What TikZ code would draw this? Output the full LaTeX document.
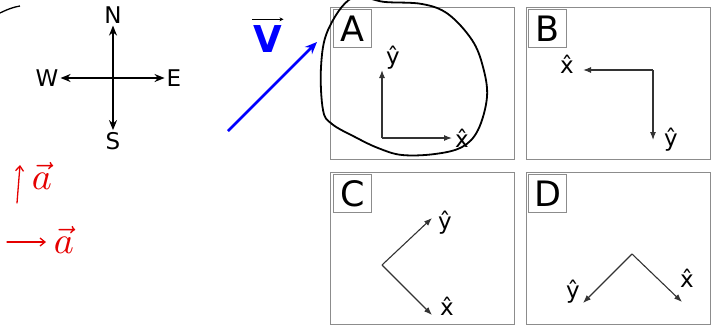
\documentclass[tikz,border=0pt]{standalone}
\usepackage{graphicx}
\usepackage{fontspec}
\setmainfont{DejaVu Sans}
\usetikzlibrary{arrows.meta}

\begin{document}
\begin{tikzpicture}[x=1pt,y=-1pt]
  \tikzstyle{compass}=[font=\fontsize{23}{23}\selectfont,inner sep=2pt]
  \tikzstyle{panel}=[draw=black!45,line width=1.4pt,minimum width=184pt,minimum height=152pt,anchor=north west]
  \tikzstyle{tag}=[draw=black!45,line width=1pt,minimum size=38pt,inner sep=0pt,anchor=north west,font=\fontsize{35}{35}\selectfont]
  \tikzstyle{hat}=[font=\fontsize{23}{23}\selectfont,inner sep=0pt]
  \tikzstyle{axis}=[draw=black!80,line width=1.1pt,-{Latex[length=8pt,width=6pt]}]
  \tikzstyle{hand}=[red!90!black,line width=1.3pt,line cap=round,-{Straight Barb[length=5pt,width=8pt]}]
  \tikzstyle{note}=[red!90!black,inner sep=0pt]
  \useasboundingbox (0,0) rectangle (711,327);
  % compass
  \coordinate (c) at (113,78);
  \node[compass] (n) at (113,15) {N};
  \node[compass] (s) at (113,141) {S};
  \node[compass] (w) at (47,78) {W};
  \node[compass] (e) at (174,78) {E};
  \foreach \d in {n,s,w,e}
    \draw[line width=1.6pt,-{Stealth[length=10pt,width=8pt]}] (c) -- (\d);
  % blue vector
  \coordinate (v0) at (228,131);
  \coordinate (v1) at (317,42);
  \draw[blue,line width=2.6pt,-{Stealth[length=12pt,width=10pt]}] (v0) -- (v1);
  \node[blue,inner sep=0pt,font=\fontsize{37}{37}\selectfont\bfseries] (v) at (268,39) {V};
  \draw[line width=1pt,-{Stealth[length=4pt,width=4pt]}] ([xshift=-1pt,yshift=6pt]v.north west) -- ([xshift=1pt,yshift=6pt]v.north east);
  % red notes
  \coordinate (r0) at (17,203);
  \coordinate (r1) at (20,165);
  \draw[hand] (r0) -- (r1);
  \node[note] (a1) at (42,176) {\scalebox{3.8}{$\vec{a}$}};
  \coordinate (r2) at (7,242);
  \coordinate (r3) at (46,242);
  \draw[hand] (r2) -- (r3);
  \node[note] (a2) at (64,240) {\scalebox{3.8}{$\vec{a}$}};
  % panel A
  \begin{scope}[shift={(330,7)}]
    \node[panel] (pA) at (0,0) {};
    \node[tag] (tA) at (3,2) {A};
    \coordinate (aO) at (52,131);
    \coordinate (aY) at (52,63);
    \coordinate (aX) at (122,131);
    \node[hat] (aYl) at (63,51) {\^{y}};
    \node[hat] (aXl) at (132,131) {\^{x}};
    \draw[axis] (aO) -- (aY);
    \draw[axis] (aO) -- (aX);
  \end{scope}
  % panel B
  \begin{scope}[shift={(526,7)}]
    \node[panel] (pB) at (0,0) {};
    \node[tag] (tB) at (2,2) {B};
    \coordinate (bO) at (127,63);
    \coordinate (bX) at (57,63);
    \coordinate (bY) at (127,133);
    \node[hat] (bXl) at (41,57) {\^{x}};
    \node[hat] (bYl) at (145,133) {\^{y}};
    \draw[axis] (bO) -- (bX);
    \draw[axis] (bO) -- (bY);
  \end{scope}
  % panel C
  \begin{scope}[shift={(330,172)}]
    \node[panel] (pC) at (0,0) {};
    \node[tag] (tC) at (3,2) {C};
    \coordinate (cO) at (52,93);
    \coordinate (cY) at (102,46);
    \coordinate (cX) at (102,143);
    \node[hat] (cYl) at (115,51) {\^{y}};
    \node[hat] (cXl) at (117,134) {\^{x}};
    \draw[axis] (cO) -- (cY);
    \draw[axis] (cO) -- (cX);
  \end{scope}
  % panel D
  \begin{scope}[shift={(526,172)}]
    \node[panel] (pD) at (0,0) {};
    \node[tag] (tD) at (2,2) {D};
    \coordinate (dO) at (106,82);
    \coordinate (dY) at (57,131);
    \coordinate (dX) at (156,130);
    \node[hat] (dYl) at (47,120) {\^{y}};
    \node[hat] (dXl) at (161,106) {\^{x}};
    \draw[axis] (dO) -- (dY);
    \draw[axis] (dO) -- (dX);
  \end{scope}
  % hand drawn loops
  \draw[line width=1.8pt] plot[smooth cycle,tension=0.6] coordinates {
    (352,-2) (328,30) (321,67) (323,110) (332,124) (355,137) (378,148)
    (402,155) (435,154) (462,147) (478,130) (487,97) (483,67) (472,40)
    (448,14) (422,4) (385,2)};
  \draw[line width=1.3pt] (0,13) .. controls (8,9) and (14,7) .. (20,6);
\end{tikzpicture}
\end{document}
